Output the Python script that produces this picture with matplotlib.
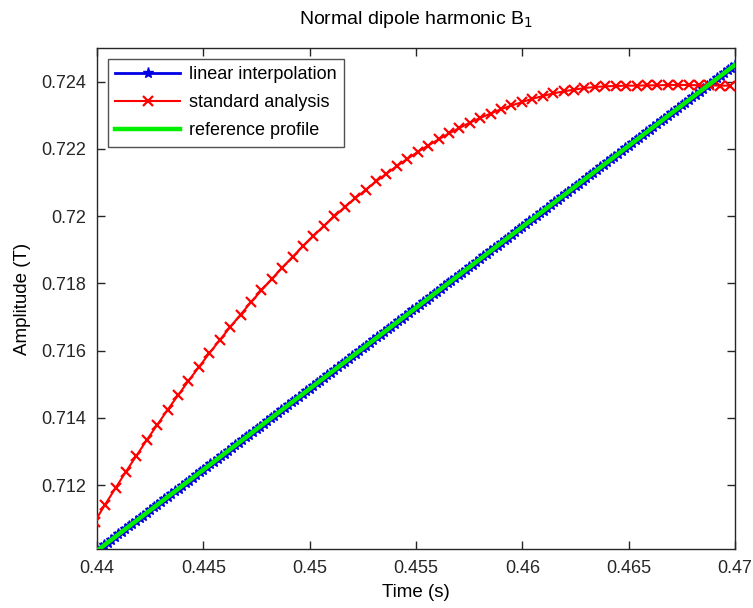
import numpy as np
import matplotlib
matplotlib.use("Agg")
import matplotlib.pyplot as plt
from matplotlib.ticker import FuncFormatter

plt.rcParams['font.family'] = ['Liberation Sans', 'DejaVu Sans']

# ---- data ----
# reference profile: straight ramp (end points)
ref_time = [0.44, 0.47]
ref_amp = [0.71005, 0.72450]

# linear interpolation: dense samples on the reference ramp
lin_count = 181

# standard analysis samples
std_t0 = 0.43989
std_dt = 0.00049
std_amp = [0.71091, 0.71142, 0.71191, 0.71240, 0.71287, 0.71334, 0.71379, 0.71424,
           0.71467, 0.71510, 0.71551, 0.71592, 0.71631, 0.71670, 0.71707, 0.71744,
           0.71779, 0.71813, 0.71847, 0.71879, 0.71911, 0.71941, 0.71971, 0.71999,
           0.72027, 0.72053, 0.72078, 0.72103, 0.72126, 0.72149, 0.72170, 0.72191,
           0.72210, 0.72228, 0.72246, 0.72262, 0.72278, 0.72292, 0.72305, 0.72318,
           0.72329, 0.72339, 0.72349, 0.72357, 0.72365, 0.72371, 0.72376, 0.72381,
           0.72384, 0.72386, 0.72387, 0.72388, 0.72388, 0.72389, 0.72389, 0.72390,
           0.72390, 0.72390, 0.72389, 0.72389, 0.72388, 0.72388]

x_ticks = [0.44, 0.445, 0.45, 0.455, 0.46, 0.465, 0.47]
y_ticks = [0.712, 0.714, 0.716, 0.718, 0.72, 0.722, 0.724]

std_time = std_t0 + std_dt * np.arange(len(std_amp))
lin_time = np.linspace(ref_time[0], ref_time[1], lin_count)
lin_amp = np.interp(lin_time, ref_time, ref_amp)

# ---- figure ----
fig = plt.figure(figsize=(7.53, 6.08), dpi=100)
ax = fig.add_axes([97/753, 1-549/608, (735-97)/753, (549-48)/608])

ax.plot(lin_time, lin_amp, color='#0000e6', marker='*', markersize=8,
        markeredgewidth=1.0, linewidth=2.0, label='linear interpolation', zorder=2)
ax.plot(std_time, std_amp, color='#ff0000', marker='x', markersize=7,
        markeredgewidth=1.6, linewidth=1.5, label='standard analysis', zorder=3)
ax.plot(ref_time, ref_amp, color='#00ee00', linewidth=3.2,
        label='reference profile', zorder=4)

ax.set_xlim(0.44, 0.47)
ax.set_ylim(0.7101, 0.725)
ax.set_xticks(x_ticks)
ax.set_yticks(y_ticks)
fmt = FuncFormatter(lambda v, p: ('%g' % round(v, 4)))
ax.xaxis.set_major_formatter(fmt)
ax.yaxis.set_major_formatter(fmt)
ax.tick_params(direction='in', top=True, right=True, length=6, width=1,
               labelsize=13, colors='#262626', pad=8)
for s in ax.spines.values():
    s.set_color('#262626')
    s.set_linewidth(1)

ax.set_xlabel('Time (s)', fontsize=13.5, labelpad=5)
ax.set_ylabel('Amplitude (T)', fontsize=13.5, labelpad=7)
ax.set_title('Normal dipole harmonic B$_1$', fontsize=14, pad=17)

leg = ax.legend(loc='upper left', fontsize=13, frameon=True, fancybox=False,
                edgecolor='#262626', handlelength=3.6, borderaxespad=0.6,
                labelspacing=0.62, handletextpad=0.5, borderpad=0.4)
leg.get_frame().set_linewidth(1)

fig.savefig('out.png', dpi=100, facecolor='white')
